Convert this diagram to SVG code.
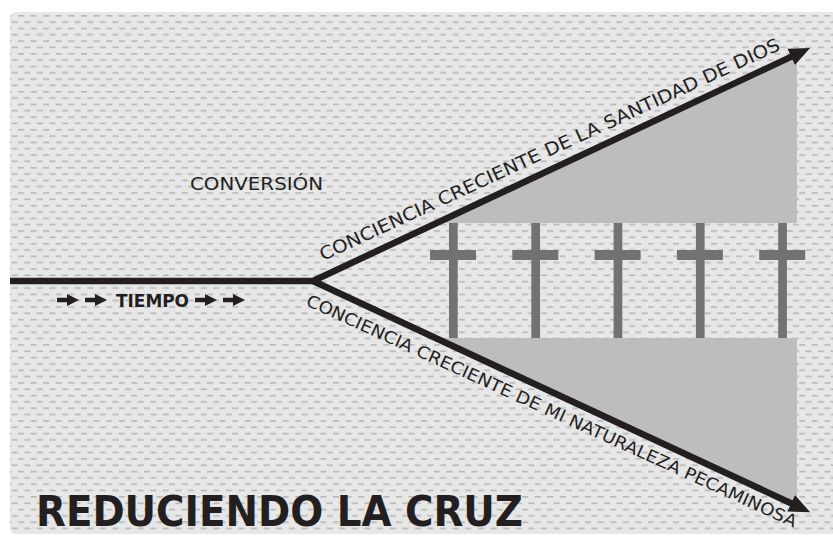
<svg xmlns="http://www.w3.org/2000/svg" width="833" height="541" viewBox="0 0 833 541">
<defs>
<style>
.bg{fill:#e7e7e8}
.gray{fill:#bdbdc0}
.cross{fill:#727273}
.line{fill:none;stroke:#231f20;stroke-width:6.5;stroke-linejoin:round}
.lbl{font-family:"DejaVu Sans",sans-serif;fill:#231f20}
.tiny{fill:#231f20}
</style>
<pattern id="dash" x="18" y="15" width="12.6" height="12.66" patternUnits="userSpaceOnUse">
<rect x="0" y="0" width="6" height="1.6" fill="#b6b6b8"/>
<rect x="6.3" y="6.33" width="6" height="1.6" fill="#b6b6b8"/>
</pattern>
<marker id="head" viewBox="0 0 22 20" markerWidth="22" markerHeight="20" refX="1" refY="10" orient="auto" markerUnits="userSpaceOnUse">
<path d="M0,1 L21,10 L0,19 Z" fill="#231f20"/>
</marker>
<path id="sarrow" d="M0,-2.2 H10 V-6 L22,0 L10,6 V2.2 H0 Z"/>
</defs>
<rect width="833" height="541" fill="#ffffff"/>
<g id="background">
<rect class="bg" x="10" y="12" width="830" height="522" rx="6"/>
<rect x="10" y="12" width="830" height="522" rx="6" fill="url(#dash)"/>
</g>
<g id="regions">
<polygon id="upper-region" class="gray" points="436.7,223 797,54 797,223"/>
<polygon id="lower-region" class="gray" points="435.6,338 797,338 797,506"/>
</g>
<g id="crosses">
<g id="cross1" class="cross"><rect x="449" y="223" width="8.7" height="115"/><rect x="430" y="250" width="46" height="10"/></g>
<g id="cross2" class="cross"><rect x="531.3" y="223" width="8.7" height="115"/><rect x="512.3" y="250" width="46" height="10"/></g>
<g id="cross3" class="cross"><rect x="613.6" y="223" width="8.7" height="115"/><rect x="594.6" y="250" width="46" height="10"/></g>
<g id="cross4" class="cross"><rect x="695.9" y="223" width="8.7" height="115"/><rect x="676.9" y="250" width="46" height="10"/></g>
<g id="cross5" class="cross"><rect x="778.2" y="223" width="8.7" height="115"/><rect x="759.2" y="250" width="46" height="10"/></g>
</g>
<g id="connectors">
<path class="line" d="M10,281 L313,281 L792,56.4" marker-end="url(#head)"/>
<path class="line" d="M313,281 L792,503.7" marker-end="url(#head)"/>
</g>
<g id="labels">
<text id="conversion" class="lbl" x="190" y="190" font-size="18" textLength="133" lengthAdjust="spacingAndGlyphs">CONVERSIÓN</text>
<g id="upper-label" transform="translate(323,261) rotate(-24.8)">
<text class="lbl" x="0" y="0" font-size="18" textLength="505" lengthAdjust="spacingAndGlyphs">CONCIENCIA CRECIENTE DE LA SANTIDAD DE DIOS</text>
</g>
<g id="lower-label" transform="translate(305,305) rotate(24.5)">
<text class="lbl" x="0" y="0" font-size="17" textLength="537" lengthAdjust="spacingAndGlyphs">CONCIENCIA CRECIENTE DE MI NATURALEZA PECAMINOSA</text>
</g>
<g id="tiempo">
<use href="#sarrow" class="tiny" x="57" y="300"/>
<use href="#sarrow" class="tiny" x="85" y="300"/>
<text class="lbl" x="116" y="306.5" font-size="17.5" font-weight="bold" textLength="73" lengthAdjust="spacingAndGlyphs">TIEMPO</text>
<use href="#sarrow" class="tiny" x="195" y="300"/>
<use href="#sarrow" class="tiny" x="223" y="300"/>
</g>
<text id="title" class="lbl" x="36" y="526" font-size="43" font-weight="bold" textLength="487" lengthAdjust="spacingAndGlyphs">REDUCIENDO LA CRUZ</text>
</g>
</svg>
